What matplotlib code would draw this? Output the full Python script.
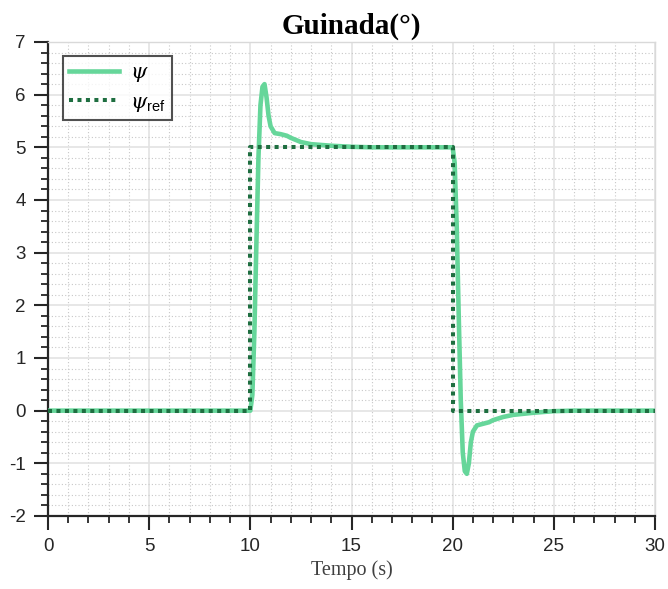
import matplotlib
matplotlib.use("Agg")
import matplotlib.pyplot as plt
from matplotlib.ticker import MultipleLocator

# Data
t_psi = [0, 10.0, 10.1, 10.2, 10.3, 10.4, 10.5, 10.6, 10.7, 10.8, 10.9, 11.0, 11.2, 11.5,
         11.8, 12.0, 12.5, 13.0, 14.0, 15.0, 16.0, 20.0, 20.1, 20.2, 20.3, 20.4, 20.5,
         20.6, 20.7, 20.8, 20.9, 21.0, 21.2, 21.5, 21.8, 22.0, 22.5, 23.0, 24.0, 25.0, 26.0, 30.0]
psi = [0, 0, 0.3, 1.5, 3.2, 4.8, 5.8, 6.15, 6.2, 5.95, 5.6, 5.4, 5.27, 5.25,
       5.22, 5.18, 5.1, 5.06, 5.03, 5.01, 5.0, 5.0, 4.7, 3.5, 1.8, 0.2, -0.8,
       -1.15, -1.2, -1.0, -0.6, -0.4, -0.28, -0.25, -0.22, -0.18, -0.12, -0.08, -0.04, -0.01, 0.0, 0.0]
t_ref = [0, 10, 10, 20, 20, 30]
psi_ref = [0, 0, 5, 5, 0, 0]

plt.rcParams['mathtext.fontset'] = 'custom'
plt.rcParams['mathtext.rm'] = 'Liberation Sans'
plt.rcParams['mathtext.it'] = 'DejaVu Serif:italic'
plt.rcParams['axes.unicode_minus'] = False

fig = plt.figure(figsize=(6.68, 5.89), dpi=100)
ax = fig.add_axes([0.0719, 0.124, 0.9086, 0.8047])

ax.plot(t_psi, psi, color='#66d69a', lw=3.3, label=r'$\psi$', zorder=3)
ax.plot(t_ref, psi_ref, color='#1e6e40', lw=2.9, ls=(0, (1.0, 1.1)), label=r'$\psi_{\mathrm{ref}}$', zorder=4)

ax.set_xlim(0, 30)
ax.set_ylim(-2, 7)
ax.xaxis.set_major_locator(MultipleLocator(5))
ax.xaxis.set_minor_locator(MultipleLocator(1))
ax.yaxis.set_major_locator(MultipleLocator(1))
ax.yaxis.set_minor_locator(MultipleLocator(0.2))

ax.grid(which='major', color='#e3e3e3', lw=1.2, ls='-')
ax.grid(which='minor', color='#c8c8c8', lw=0.8, ls=(0, (1, 2)))
ax.set_axisbelow(True)

for s in ['left', 'bottom']:
    ax.spines[s].set_color('#262626')
    ax.spines[s].set_linewidth(1.6)
for s in ['top', 'right']:
    ax.spines[s].set_color('#d9d9d9')
    ax.spines[s].set_linewidth(1.0)

ax.tick_params(which='major', direction='out', length=10, width=1.5, color='#262626',
               labelsize=13.5, labelcolor='#262626', top=False, right=False, pad=6)
ax.tick_params(which='minor', direction='out', length=5, width=1.3, color='#262626',
               top=False, right=False)
for lab in ax.get_xticklabels() + ax.get_yticklabels():
    lab.set_fontfamily('Liberation Sans')

ax.set_title('Guinada(°)', fontfamily='Liberation Serif', fontweight='bold', fontsize=21, pad=6)
ax.set_xlabel('Tempo (s)', fontfamily='Liberation Serif', fontsize=14.5, color='#404040', labelpad=4)

leg = ax.legend(loc='upper left', bbox_to_anchor=(0.025, 0.97), borderaxespad=0, fontsize=15,
                frameon=True, fancybox=False, edgecolor='#262626', handlelength=2.4,
                borderpad=0.3, labelspacing=0.35, handletextpad=0.5)
leg.get_frame().set_linewidth(1.5)

fig.savefig('out.png', dpi=100, facecolor='white')
